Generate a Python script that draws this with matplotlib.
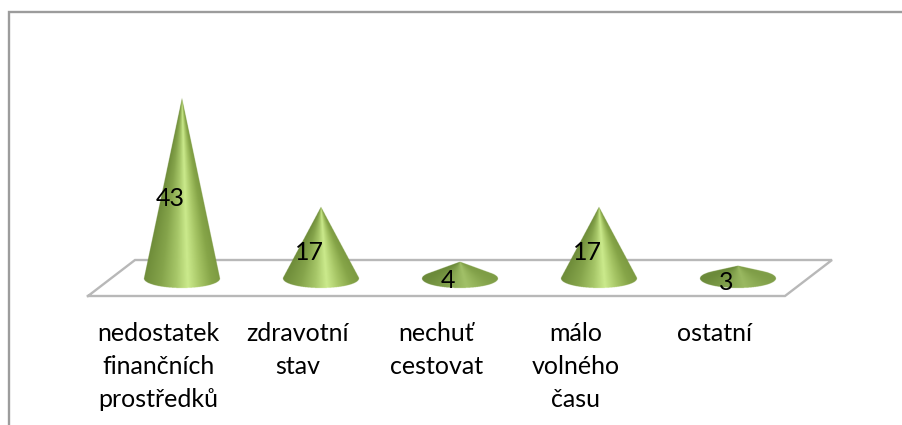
import numpy as np
import matplotlib
matplotlib.use("Agg")
import matplotlib.pyplot as plt
from matplotlib.lines import Line2D
from matplotlib.colors import LinearSegmentedColormap

categories = ["nedostatek\nfinančních\nprostředků", "zdravotní\nstav", "nechuť\ncestovat", "málo\nvolného\nčasu", "ostatní"]
values = [43, 17, 4, 17, 3]

W, H = 902, 425
plt.rcParams["font.family"] = ["Lato", "Noto Sans", "DejaVu Sans"]
fig = plt.figure(figsize=(W / 100, H / 100), dpi=100)
ax = fig.add_axes([0, 0, 1, 1])

# layout: pixel geometry of the category / value scale
X0, DX = 182.0, 139.0
Y0, DY = 279.0, 4.2
ax.set_xlim(-X0 / DX, (W - X0) / DX)
ax.set_ylim(-(H - Y0) / DY, Y0 / DY)
ax.axis("off")

A = 38.0 / DX   # cone base half width (x units)
B = 9.5 / DY    # cone base half height (y units)


def frame_line(xs, ys, color, lw, z=1):
    fig.add_artist(Line2D(np.array(xs) / W, 1 - np.array(ys) / H, color=color, lw=lw,
                          transform=fig.transFigure, zorder=z, solid_capstyle="butt",
                          solid_joinstyle="miter"))


frame_line([8.5, 8.5, W], [H, 11.5, 11.5], "#9c9c9c", 1.7)
ax.plot([(88 - X0) / DX, (785 - X0) / DX, (832 - X0) / DX, (135 - X0) / DX, (88 - X0) / DX],
        [(Y0 - 296) / DY, (Y0 - 296) / DY, (Y0 - 260) / DY, (Y0 - 260) / DY, (Y0 - 296) / DY],
        color="#b8b8b8", lw=1.7, zorder=1, solid_joinstyle="miter")

bright = LinearSegmentedColormap.from_list("bright", [
    (0.00, "#6f8d3a"), (0.22, "#85a44b"), (0.42, "#a6c668"), (0.58, "#cbea8c"),
    (0.75, "#a5c464"), (0.90, "#86a548"), (1.00, "#7d9b42")])
dull = LinearSegmentedColormap.from_list("dull", [
    (0.00, "#6b8a3a"), (0.30, "#7d9c4a"), (0.60, "#94b35c"), (0.85, "#86a54f"), (1.00, "#7f9e48")])


def draw_cone(ax, cx, v):
    ss = 4
    x1, x2 = cx - A * 1.05, cx + A * 1.05
    y1, y2 = -B * 1.2, v * 1.02 + 0.3
    nx = int((x2 - x1) * DX * ss)
    ny = int((y2 - y1) * DY * ss)
    gx, gy = np.meshgrid(np.linspace(x1, x2, nx), np.linspace(y1, y2, ny))
    nxn = (gx - cx) / A
    nyn = gy / B
    h = v / B
    # silhouette: base ellipse plus triangle to tangent points
    mask = nxn**2 + nyn**2 <= 1
    ty = 1 / h
    tx = np.sqrt(1 - ty**2)
    frac = (h - nyn) / (h - ty)
    mask |= (nyn >= ty) & (nyn <= h) & (np.abs(nxn) <= tx * frac)
    # shade by where the ray from the tip meets the front rim
    k = nxn / np.maximum(h - nyn, 1e-6)
    qa = 1 + k**2
    qb = -2 * k**2 * h
    qc = k**2 * h**2 - 1
    disc = np.maximum(qb**2 - 4 * qa * qc, 0)
    yhit = (-qb - np.sqrt(disc)) / (2 * qa)
    xhit = k * (h - yhit)
    u = np.clip((xhit + 1) / 2, 0, 1)
    mix = np.clip((h - 1) / 3.0, 0, 1)
    rgb = bright(u)[..., :3] * mix + dull(u)[..., :3] * (1 - mix)
    rgba = np.dstack([rgb, mask.astype(float)])
    ax.imshow(rgba, extent=[x1, x2, y1, y2], origin="lower", aspect="auto",
              interpolation="hanning", zorder=2)


for i, v in enumerate(values):
    draw_cone(ax, i, v)
ax.set_xlim(-X0 / DX, (W - X0) / DX)
ax.set_ylim(-(H - Y0) / DY, Y0 / DY)

for i, (c, v) in enumerate(zip(categories, values)):
    ax.text(i - 12 / DX, v / 2 - B, str(v), ha="center", va="center", fontsize=18,
            color="black", zorder=3)
    ax.text(i - 23.5 / DX, (Y0 - 322) / DY, c, ha="center", va="top", fontsize=18,
            color="black", linespacing=1.52, zorder=3)

fig.savefig("out.png", dpi=100)
